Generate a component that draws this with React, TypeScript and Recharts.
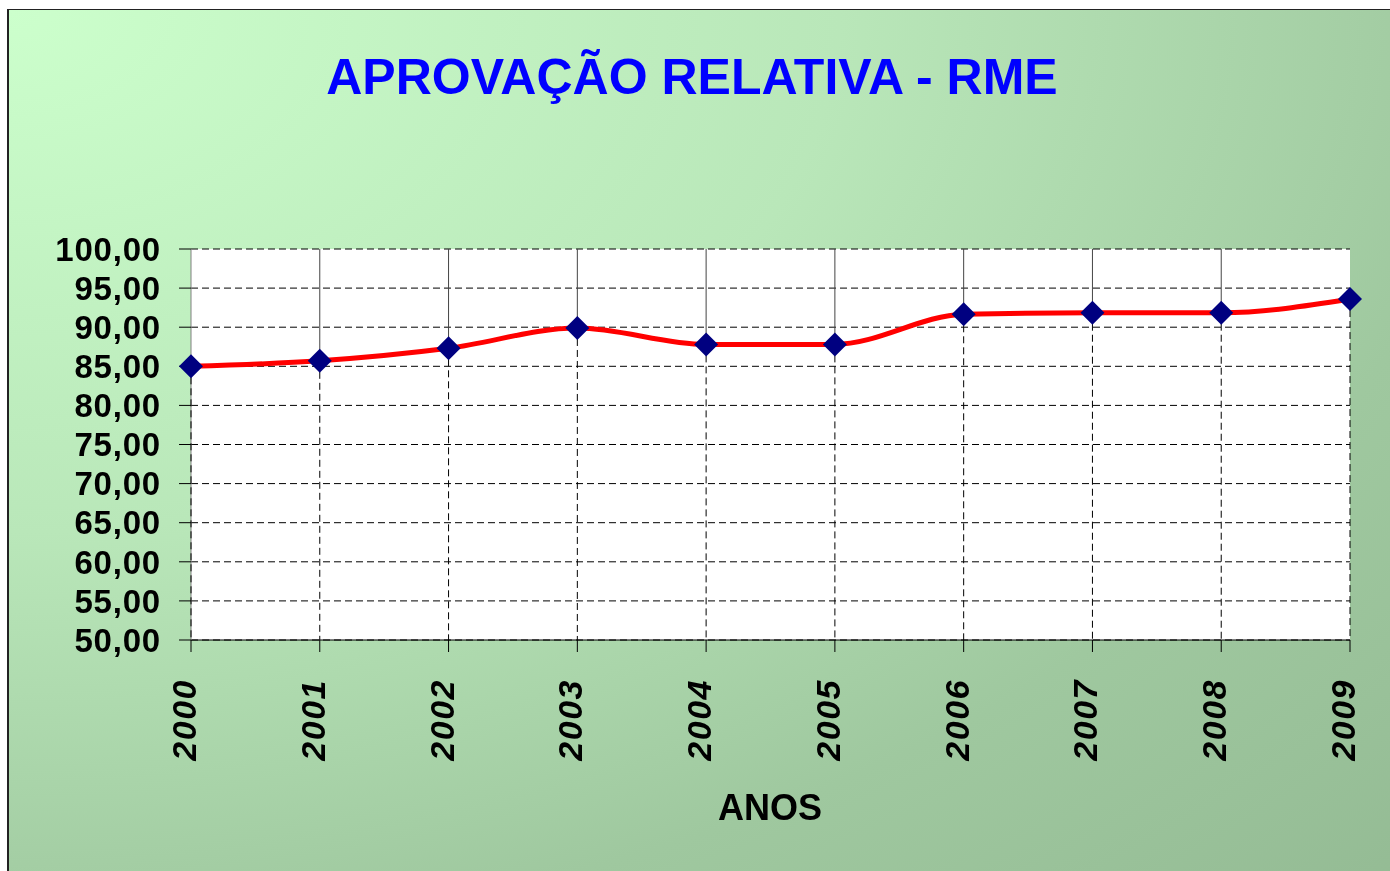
import { LineChart, Line, XAxis, YAxis, CartesianGrid } from "recharts";

const years = ["2000", "2001", "2002", "2003", "2004", "2005", "2006", "2007", "2008", "2009"];
const aprovacao = [85.0, 85.7, 87.3, 89.9, 87.8, 87.8, 91.65, 91.85, 91.85, 93.6];
const yTicks = [50, 55, 60, 65, 70, 75, 80, 85, 90, 95, 100];

const data = years.map((ano, i) => ({ ano, valor: aprovacao[i] }));

const W = 1382;
const H = 862;
const PLOT_TOP = 239;
const PLOT_BOTTOM = 630;
const FONT = "'Liberation Sans', Arial, sans-serif";

const fmt = (v: number) => v.toFixed(2).replace(".", ",");

// vertical lines: solid gray above the point, dashed black drop line below
const GuideDot = (props: any) => {
  const { cx, cy, index } = props;
  return (
    <g key={`g-${index}`}>
      {index > 0 && index < years.length - 1 && (
        <line x1={cx} x2={cx} y1={PLOT_TOP} y2={cy} stroke="#444" strokeWidth={1} />
      )}
      <line x1={cx} x2={cx} y1={cy} y2={PLOT_BOTTOM} stroke="#000" strokeWidth={1} strokeDasharray="7 4" />
    </g>
  );
};

const Diamond = (props: any) => {
  const { cx, cy, index } = props;
  const r = 12;
  return (
    <path
      key={`d-${index}`}
      d={`M${cx},${cy - r} L${cx + r},${cy} L${cx},${cy + r} L${cx - r},${cy} Z`}
      fill="#000080"
    />
  );
};

const YearTick = (props: any) => {
  const { x, y, payload } = props;
  const ty = y + 25;
  const tx = x + 5;
  return (
    <text
      x={tx}
      y={ty}
      transform={`rotate(-90, ${tx}, ${ty})`}
      textAnchor="end"
      fontFamily={FONT}
      fontWeight="bold"
      fontStyle="italic"
      fontSize={34}
      letterSpacing={1.5}
      fill="#000"
    >
      {payload.value}
    </text>
  );
};

export default function App() {
  return (
    <div
      style={{
        position: "fixed",
        left: 7,
        top: 9,
        width: 1400,
        height: 880,
        boxSizing: "border-box",
        borderLeft: "2px solid #222",
        borderTop: "1px solid #222",
        background:
          "radial-gradient(ellipse farthest-corner at 0% 0%, #ccffcc 0%, #b9e7b9 42%, #9fc89f 75%, #94bb94 100%)",
        overflow: "hidden",
      }}
    >
      <div
        style={{
          position: "absolute",
          left: 0,
          width: 1366,
          top: 42,
          textAlign: "center",
          fontFamily: FONT,
          fontWeight: "bold",
          fontSize: 50,
          lineHeight: "50px",
          color: "#0000ff",
        }}
      >
        APROVAÇÃO RELATIVA - RME
      </div>
      <LineChart
        width={W}
        height={H}
        data={data}
        margin={{ top: PLOT_TOP, right: 41, bottom: 0, left: 0 }}
        style={{ position: "absolute", left: 0, top: 0 }}
      >
        <CartesianGrid
          vertical={false}
          stroke="#000"
          strokeDasharray="7 4"
          fill="#ffffff"
          fillOpacity={1}
        />
        <XAxis
          dataKey="ano"
          height={H - PLOT_BOTTOM}
          stroke="#000"
          tickSize={12}
          tick={<YearTick />}
          interval={0}
        />
        <YAxis
          width={182}
          domain={[50, 100]}
          ticks={yTicks}
          interval={0}
          tickFormatter={fmt}
          stroke="#808080"
          tickLine={{ stroke: "#000" }}
          tickSize={12}
          tickMargin={18}
          tick={{ fill: "#000", fontFamily: FONT, fontWeight: "bold", fontSize: 33, letterSpacing: 0.8 }}
        />
        <Line
          dataKey="valor"
          stroke="none"
          dot={<GuideDot />}
          activeDot={false}
          isAnimationActive={false}
        />
        <Line
          type="monotone"
          dataKey="valor"
          stroke="#ff0000"
          strokeWidth={5}
          dot={<Diamond />}
          activeDot={false}
          isAnimationActive={false}
        />
      </LineChart>
      <div
        style={{
          position: "absolute",
          left: 0,
          width: 1522,
          top: 780,
          textAlign: "center",
          fontFamily: FONT,
          fontWeight: "bold",
          fontSize: 36,
          lineHeight: "36px",
          color: "#000",
        }}
      >
        ANOS
      </div>
    </div>
  );
}
